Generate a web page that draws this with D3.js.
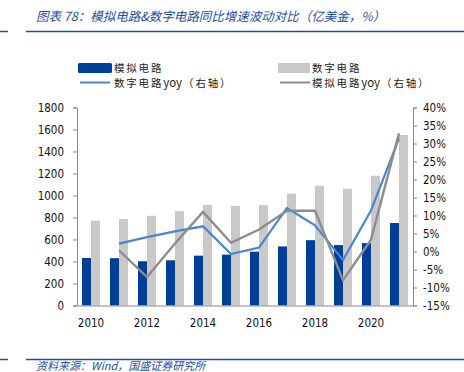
<!DOCTYPE html>
<html>
<head>
<meta charset="utf-8">
<script src="https://cdn.jsdelivr.net/npm/d3@7"></script>
<style>
 body { margin: 0; background: #fff; }
 svg { display: block; }
</style>
</head>
<body>
<div id="chart"></div>
<script>
// data
var years = ["2010","2011","2012","2013","2014","2015","2016","2017","2018","2019","2020","2021"];
var analog = [432, 430, 402, 411, 453, 462, 489, 537, 594, 549, 567, 750];
var digital = [771, 786, 816, 858, 915, 906, 912, 1017, 1089, 1062, 1180, 1550];
var digitalYoy = [null, 2.2, 4.0, 5.6, 7.0, -0.7, 1.1, 12.1, 7.3, -2.4, 11.4, 31.4];
var analogYoy = [null, 0.3, -7.1, 2.2, 11.0, 2.4, 6.1, 11.3, 11.3, -8.0, 3.3, 32.8];
var leftTicks = [0, 200, 400, 600, 800, 1000, 1200, 1400, 1600, 1800];
var rightTicks = [-15, -10, -5, 0, 5, 10, 15, 20, 25, 30, 35, 40];
var yearLabels = ["2010","2012","2014","2016","2018","2020"];

var w = 464, h = 372;
var blue = "#003f98", grey = "#c9c9c9", lineBlue = "#4a86d0", lineGrey = "#8d8d8d";
var titleColor = "#1f4ea1";
var tickFont = "'DejaVu Sans Condensed', 'DejaVu Sans', sans-serif";
var cjk = "'Noto Sans CJK SC', sans-serif";

var svg = d3.select("#chart").append("svg").attr("width", w).attr("height", h);

// title + rules
svg.append("text").attr("x", 36).attr("y", 21)
  .attr("font-family", cjk).attr("font-size", 12.5).attr("font-style", "italic")
  .attr("fill", titleColor)
  .text("图表 78：模拟电路&数字电路同比增速波动对比（亿美金，%）");
svg.append("line").attr("x1", 0).attr("x2", 8).attr("y1", 31.5).attr("y2", 31.5)
  .attr("stroke", titleColor).attr("stroke-width", 1.5);
svg.append("line").attr("x1", 26).attr("x2", w).attr("y1", 31.5).attr("y2", 31.5)
  .attr("stroke", titleColor).attr("stroke-width", 1.5);

// footer
svg.append("line").attr("x1", 0).attr("x2", 8).attr("y1", 359.5).attr("y2", 359.5)
  .attr("stroke", titleColor).attr("stroke-width", 1.5);
svg.append("line").attr("x1", 26).attr("x2", w).attr("y1", 359.5).attr("y2", 359.5)
  .attr("stroke", titleColor).attr("stroke-width", 1.5);
svg.append("text").attr("x", 36).attr("y", 370)
  .attr("font-family", cjk).attr("font-size", 11).attr("font-style", "italic")
  .attr("fill", titleColor)
  .text("资料来源：Wind，国盛证券研究所");

// scales
var x0 = d3.scaleBand().domain(years).range([77, 413]).paddingInner(10/28).paddingOuter(5/28);
var x1 = d3.scaleBand().domain(["a","d"]).range([0, x0.bandwidth()]);
var yL = d3.scaleLinear().domain([0, 1800]).range([305.5, 107.5]);
var yR = d3.scaleLinear().domain([-15, 40]).range([305.5, 107.5]);

// bars
var g = svg.append("g");
g.selectAll("rect.an").data(years).enter().append("rect")
  .attr("x", function(d){ return x0(d) + x1("a"); })
  .attr("y", function(d,i){ return yL(analog[i]); })
  .attr("width", x1.bandwidth())
  .attr("height", function(d,i){ return yL(0) - yL(analog[i]); })
  .attr("fill", blue);
g.selectAll("rect.dg").data(years).enter().append("rect")
  .attr("x", function(d){ return x0(d) + x1("d"); })
  .attr("y", function(d,i){ return yL(digital[i]); })
  .attr("width", x1.bandwidth())
  .attr("height", function(d,i){ return yL(0) - yL(digital[i]); })
  .attr("fill", grey);

// axes
var axisColor = "#8a8a8a";
var left = svg.append("g").attr("transform", "translate(77,0)")
  .call(d3.axisLeft(yL).tickValues(leftTicks).tickSize(4).tickPadding(9).tickFormat(d3.format("d")));
var right = svg.append("g").attr("transform", "translate(413,0)")
  .call(d3.axisRight(yR).tickValues(rightTicks).tickSize(4).tickPadding(6)
    .tickFormat(function(d){ return d + "%"; }));
var bottom = svg.append("g").attr("transform", "translate(0,305.5)")
  .call(d3.axisBottom(x0).tickValues(yearLabels).tickSize(0).tickPadding(13));
[left, right, bottom].forEach(function(a){
  a.select(".domain").attr("stroke", axisColor);
  a.selectAll(".tick line").attr("stroke", axisColor);
  a.selectAll("text").attr("font-family", tickFont).attr("font-size", 11.5).attr("fill", "#111");
});

// lines
function lineFor(vals){
  return d3.line()
    .defined(function(d,i){ return vals[i] !== null; })
    .x(function(d){ return x0(d) + x0.bandwidth()/2; })
    .y(function(d,i){ return yR(vals[i]); });
}
svg.append("path").datum(years).attr("d", lineFor(digitalYoy))
  .attr("fill", "none").attr("stroke", lineBlue).attr("stroke-width", 2.2);
svg.append("path").datum(years).attr("d", lineFor(analogYoy))
  .attr("fill", "none").attr("stroke", lineGrey).attr("stroke-width", 2.4);

// legend
var lg = svg.append("g").attr("font-family", cjk).attr("font-size", 10.5)
  .attr("letter-spacing", 1.8).attr("fill", "#222");
lg.append("rect").attr("x", 78).attr("y", 63).attr("width", 34).attr("height", 10).attr("rx", 1.5).attr("fill", blue);
lg.append("text").attr("x", 114).attr("y", 71.5).text("模拟电路");
lg.append("rect").attr("x", 278).attr("y", 63).attr("width", 32).attr("height", 10).attr("fill", grey);
lg.append("text").attr("x", 312).attr("y", 71.5).text("数字电路");
lg.append("line").attr("x1", 80).attr("x2", 110).attr("y1", 82.5).attr("y2", 82.5).attr("stroke", lineBlue).attr("stroke-width", 2);
lg.append("line").attr("x1", 280).attr("x2", 310).attr("y1", 82.5).attr("y2", 82.5).attr("stroke", lineGrey).attr("stroke-width", 2);
[[114, "数字电路"], [312, "模拟电路"]].forEach(function(p){
  var t = lg.append("text").attr("x", p[0]).attr("y", 87);
  t.append("tspan").text(p[1]);
  t.append("tspan").attr("letter-spacing", 0).attr("font-size", 11.5).text("yoy");
  t.append("tspan").attr("dx", 1).text("（右轴）");
});
</script>
</body>
</html>
